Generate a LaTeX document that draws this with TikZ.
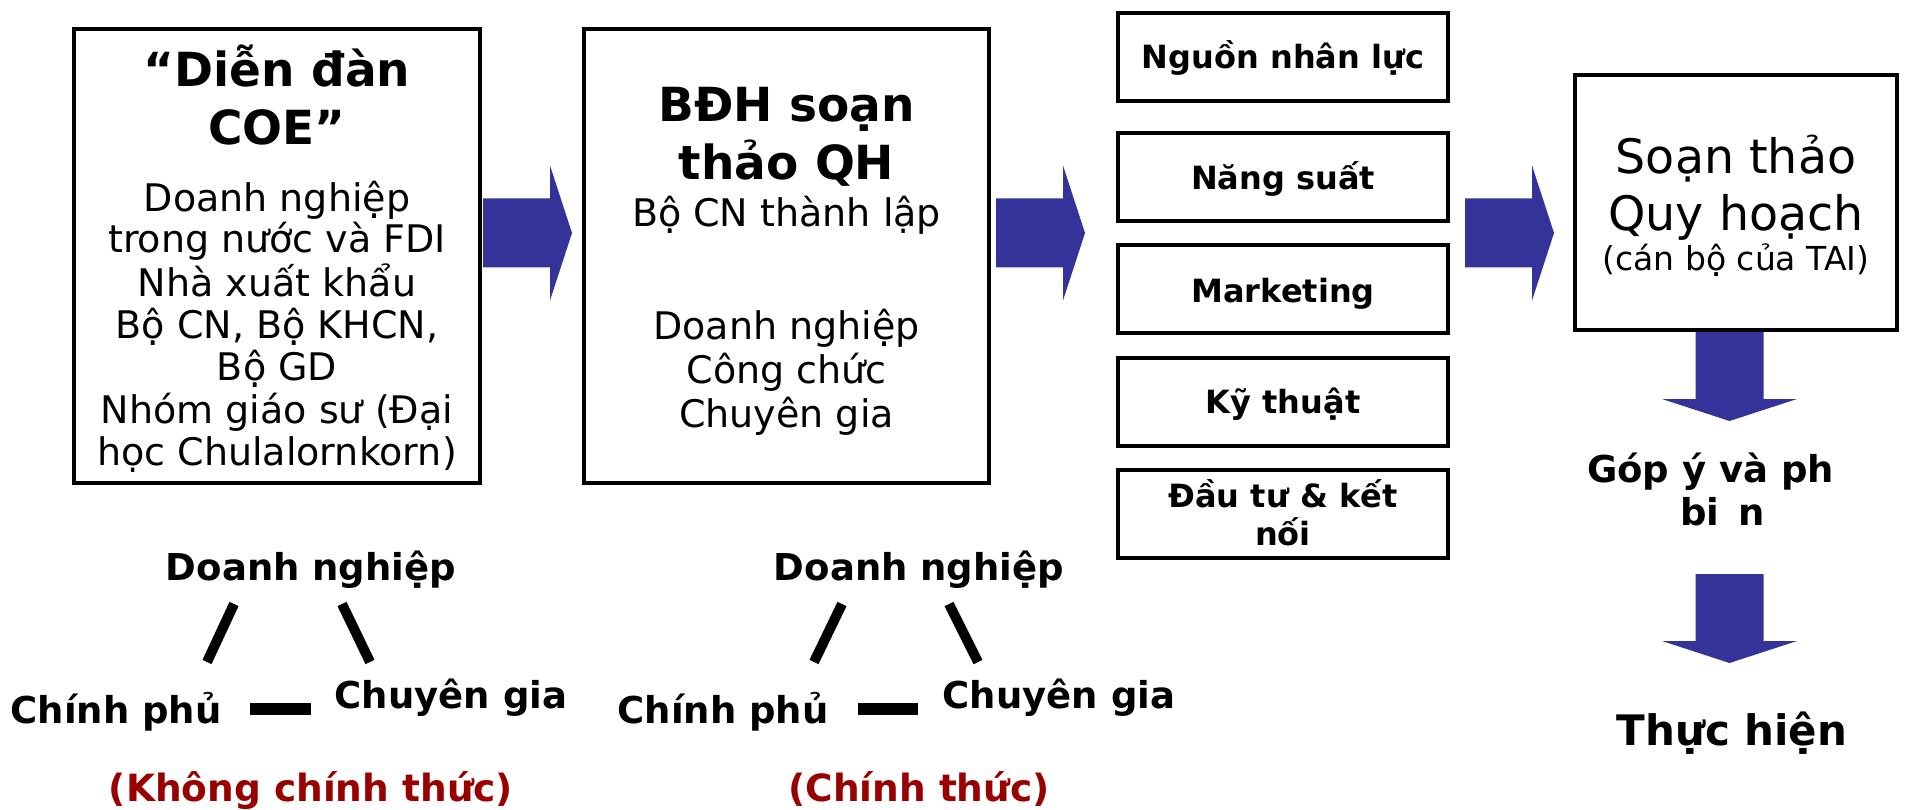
\documentclass[tikz,border=0pt]{standalone}
\usepackage{fontspec}
\setmainfont{DejaVu Sans}
\definecolor{arrowblue}{RGB}{51,51,153}
\definecolor{labelred}{RGB}{153,0,0}
\begin{document}
\begin{tikzpicture}[x=1pt,y=-1pt,
  every node/.style={inner sep=0pt, outer sep=0pt},
  box/.style={draw=black, line width=4pt},
  itembox/.style={draw=black, line width=3.5pt, minimum width=330, minimum height=88},
  lbl/.style={anchor=base},
  headbold/.style={lbl, font=\fontsize{47}{56}\selectfont\bfseries},
  bodytext/.style={lbl, font=\fontsize{38}{45}\selectfont},
  itemtext/.style={lbl, font=\fontsize{32}{38}\selectfont\bfseries},
  bigtext/.style={lbl, font=\fontsize{47.5}{56}\selectfont},
  smalltext/.style={lbl, font=\fontsize{33}{39}\selectfont},
  tritext/.style={lbl, font=\fontsize{37}{44}\selectfont\bfseries},
  redtext/.style={lbl, font=\fontsize{37.5}{45}\selectfont\bfseries, text=labelred},
  steptext/.style={lbl, font=\fontsize{37}{44}\selectfont\bfseries},
  bar/.style={line width=10pt},
  flatbar/.style={line width=12pt},
  blockright/.pic={\fill[arrowblue] (0,-34.5) -- (67,-34.5) -- (67,-67.5) -- (89,0)
      -- (67,67.5) -- (67,34.5) -- (0,34.5) -- cycle;},
  blockdown/.pic={\fill[arrowblue] (-34,0) -- (-34,67) -- (-67.5,67) -- (0,89)
      -- (67.5,67) -- (34,67) -- (34,0) -- cycle;}
]
\useasboundingbox (0,0) rectangle (1905,810);

% ---- main boxes ----
\node[box, minimum width=406, minimum height=454] (coe) at (277,256) {};
\node[box, minimum width=405, minimum height=454] (bdh) at (786.5,256) {};
\node[box, minimum width=322, minimum height=255] (draft) at (1736,202.5) {};

% ---- topic boxes ----
\node[itembox] (hr)  at (1283,57) {};
\node[itembox] (ns)  at (1283,177) {};
\node[itembox] (mk)  at (1283,289) {};
\node[itembox] (kt)  at (1283,402) {};
\node[itembox] (dt)  at (1283,514) {};

% ---- block arrows ----
\pic at (483,233) {blockright};
\pic at (996,233) {blockright};
\pic at (1465,233) {blockright};
\pic at (1729.5,332) {blockdown};
\pic at (1729.5,574) {blockdown};

% ---- text of the forum box ----
\node[headbold] (coe1) at (277,87) {“Diễn đàn};
\node[headbold] (coe2) at (277,145) {COE”};
\foreach \yb/\lbltext [count=\i] in {212/Doanh nghiệp, 253/trong nước và FDI,
    296/Nhà xuất khẩu, 338/{Bộ CN, Bộ KHCN,}, 380/Bộ GD,
    423/Nhóm giáo sư (Đại, 465/học Chulalornkorn)}
  \node[bodytext] (coeb\i) at (277,\yb) {\lbltext};

% ---- text of the steering board box ----
\node[headbold] (bdh1) at (786.5,122) {BĐH soạn};
\node[headbold] (bdh2) at (786.5,180) {thảo QH};
\node[bodytext] (bdh3) at (786.5,227) {Bộ CN thành lập};
\node[bodytext] (bdh4) at (786.5,339) {Doanh nghiệp};
\node[bodytext] (bdh5) at (786.5,383) {Công chức};
\node[bodytext] (bdh6) at (786.5,427) {Chuyên gia};

% ---- topic labels ----
\node[itemtext] (hrt) at (1283,69) {Nguồn nhân lực};
\node[itemtext] (nst) at (1283,190) {Năng suất};
\node[itemtext] (mkt) at (1283,302) {Marketing};
\node[itemtext] (ktt) at (1283,413) {Kỹ thuật};
\node[itemtext] (dt1) at (1283,507) {Đầu tư \& kết};
\node[itemtext] (dt2) at (1283,545) {nối};

% ---- drafting box ----
\node[bigtext] (dr1) at (1736,174) {Soạn thảo};
\node[bigtext] (dr2) at (1736,231) {Quy hoạch};
\node[smalltext] (dr3) at (1736,271) {(cán bộ của TAI)};

% ---- later steps ----
\node[steptext, anchor=base west] (gop1) at (1587,482) {Góp ý và ph};
\node[steptext, anchor=base west] (gop2) at (1680,525) {bi\kern19pt n};
\node[lbl, font=\fontsize{42}{50}\selectfont\bfseries] (th) at (1732,745) {Thực hiện};

% ---- informal triangle ----
\node[tritext] (dn1) at (311,580) {Doanh nghiệp};
\node[tritext] (cp1) at (116,723) {Chính phủ};
\node[tritext] (cg1) at (451,708) {Chuyên gia};
\node[redtext] (kct) at (311,801) {(Không chính thức)};
\coordinate (l1a) at (234,604); \coordinate (l1b) at (207,662);
\coordinate (r1a) at (342,604); \coordinate (r1b) at (370,662);
\coordinate (h1a) at (250,709); \coordinate (h1b) at (311,709);
\draw[bar] (l1a) -- (l1b);
\draw[bar] (r1a) -- (r1b);
\draw[flatbar] (h1a) -- (h1b);

% ---- formal triangle ----
\node[tritext] (dn2) at (919,580) {Doanh nghiệp};
\node[tritext] (cp2) at (723,723) {Chính phủ};
\node[tritext] (cg2) at (1059,708) {Chuyên gia};
\node[redtext] (ct) at (919,801) {(Chính thức)};
\coordinate (l2a) at (842,604); \coordinate (l2b) at (814,662);
\coordinate (r2a) at (949,604); \coordinate (r2b) at (978,662);
\coordinate (h2a) at (858,709); \coordinate (h2b) at (918,709);
\draw[bar] (l2a) -- (l2b);
\draw[bar] (r2a) -- (r2b);
\draw[flatbar] (h2a) -- (h2b);
\end{tikzpicture}
\end{document}
